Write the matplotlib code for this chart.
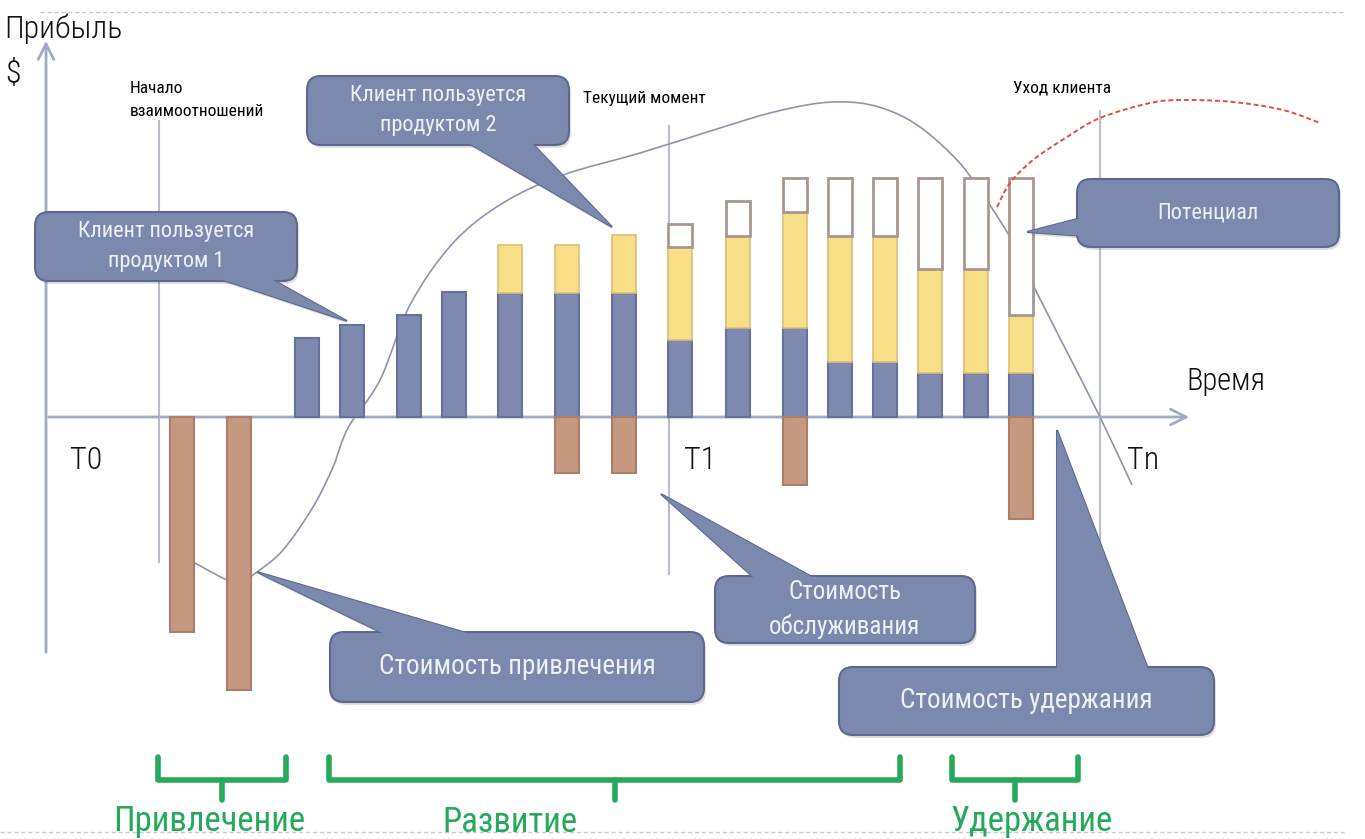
import matplotlib.pyplot as plt
from matplotlib.patches import FancyBboxPatch, Polygon, PathPatch
from matplotlib.path import Path

# time positions of the periods (x) and profit per period (y, 0 = break-even)
PERIODS = [182, 239, 307, 352, 409, 454, 510, 567, 624, 680, 738, 795, 840, 885, 930, 976, 1021]
PRODUCT1 = [0, 0, 79, 92, 102, 125, 124, 124, 124, 77, 89, 89, 55, 55, 44, 44, 44]
PRODUCT2 = [0, 0, 0, 0, 0, 0, 48, 48, 58, 93, 92, 116, 126, 126, 104, 104, 58]
POTENTIAL = [0, 0, 0, 0, 0, 0, 0, 0, 0, 23, 35, 34, 58, 58, 91, 91, 137]
COSTS = [-215, -273, 0, 0, 0, 0, 0, -56, -56, 0, 0, -68, 0, 0, 0, 0, -102]

# cumulative client value curve
LTV_T = [193, 227, 240, 257, 283, 313, 333, 348, 380, 410, 453, 503,
         563, 640, 720, 770, 820, 860, 893, 920, 947, 970, 1010, 1033,
         1066, 1100, 1132]
LTV = [-145, -163, -165, -155, -133, -90, -50, -11, 37, 112, 174, 214,
       242, 264, 289, 304, 314, 314, 305, 290, 267, 241, 180, 132,
       67, 0, -68]

# value that could have been kept
LOST_T = [997, 1010, 1033, 1067, 1100, 1150, 1183, 1233, 1283, 1320]
LOST = [210, 234, 257, 280, 299, 314, 317, 315, 307, 294]

MOMENTS = [159, 669, 1100]
MOMENT_LABELS = ['Начало\nвзаимоотношений', 'Текущий момент', 'Уход клиента']
T_LABELS = ['T0', 'T1', 'Tn']
STAGES = ['Привлечение', 'Развитие', 'Удержание']

BLUE = '#7e8ab0'
BLUE_EDGE = '#67729a'
YELLOW = '#f8df87'
BROWN = '#c6987f'
AXIS = '#a3aac6'
GREEN = '#25a95a'

plt.rcParams['font.family'] = ['Roboto Condensed', 'DejaVu Sans']

BASE = 417  # pixel row of the time axis


def P(x, py):
    return (x, BASE - py)


def smooth_path(xs, ys):
    # cubic bezier through the read points (Catmull-Rom tangents)
    pts = list(zip(xs, ys))
    verts = [pts[0]]
    codes = [Path.MOVETO]
    for i in range(len(pts) - 1):
        p0 = pts[i - 1] if i > 0 else pts[i]
        p1, p2 = pts[i], pts[i + 1]
        p3 = pts[i + 2] if i + 2 < len(pts) else pts[i + 1]
        c1 = (p1[0] + (p2[0] - p0[0]) / 6, p1[1] + (p2[1] - p0[1]) / 6)
        c2 = (p2[0] - (p3[0] - p1[0]) / 6, p2[1] - (p3[1] - p1[1]) / 6)
        verts += [c1, c2, p2]
        codes += [Path.CURVE4] * 3
    return Path(verts, codes)


fig = plt.figure(figsize=(13.65, 8.39), dpi=100)
ax = fig.add_axes([0, 0, 1, 1])
ax.set_xlim(0, 1365)
ax.set_ylim(BASE - 839, BASE)
ax.axis('off')

# dashed frame lines
ax.plot([40, 1345], [BASE - 12, BASE - 12], color='#c8c8c8', lw=1, ls=(0, (3, 2)))
ax.plot([0, 1345], [BASE - 832, BASE - 832], color='#c8c8c8', lw=1, ls=(0, (3, 2)))

# axes with arrows
ax.annotate('', xy=(1192, 0), xytext=(46, 0),
            arrowprops=dict(arrowstyle='->', color=AXIS, lw=2, mutation_scale=28))
ax.annotate('', xy=P(46, 38), xytext=P(46, 655),
            arrowprops=dict(arrowstyle='->', color=AXIS, lw=2, mutation_scale=28))

# moment markers
ax.vlines(MOMENTS, [BASE - 563, BASE - 575, BASE - 640], [BASE - 120, BASE - 125, BASE - 110],
          color='#b9bccb', lw=1.5, zorder=1)
ax.text(130, BASE - 100, MOMENT_LABELS[0], fontsize=12.5, va='center', linespacing=1.6)
ax.text(583, BASE - 98, MOMENT_LABELS[1], fontsize=12.5, va='center')
ax.text(1013, BASE - 88, MOMENT_LABELS[2], fontsize=12.5, va='center')

for x, lab in zip([70, 684, 1127], T_LABELS):
    ax.text(x, BASE - 460, lab, fontsize=23, va='center', color='#111111', fontweight='light')

ax.text(4, BASE - 29, 'Прибыль', fontsize=23, va='center', color='#111111', fontweight='light')
ax.text(5, BASE - 75, '$', fontsize=23, va='center', color='#111111', fontweight='light')
ax.text(1186, BASE - 381, 'Время', fontsize=22, va='center', color='#111111', fontweight='light')

# client value curve (behind the bars)
ax.add_patch(PathPatch(smooth_path(LTV_T, LTV), fc='none', ec='#8f94ad', lw=1.2, zorder=2))

# bars
bw = 24
p2_bottom = PRODUCT1
pot_bottom = [a + b for a, b in zip(PRODUCT1, PRODUCT2)]


def pick(vals, bottoms):
    idx = [i for i, v in enumerate(vals) if v != 0]
    return ([PERIODS[i] for i in idx], [vals[i] for i in idx], [bottoms[i] for i in idx])


x, h, b = pick(PRODUCT1, [0] * len(PERIODS))
ax.bar(x, h, bottom=b, width=bw, color=BLUE, edgecolor=BLUE_EDGE, lw=1.5, zorder=3)
x, h, b = pick(PRODUCT2, p2_bottom)
ax.bar(x, h, bottom=b, width=bw, color=YELLOW, edgecolor='#d8c07a', lw=1.2, zorder=3)
x, h, b = pick(POTENTIAL, pot_bottom)
ax.bar(x, h, bottom=b, width=bw, color='white', edgecolor='#a8978f', lw=2, zorder=3)
x, h, b = pick(COSTS, [0] * len(PERIODS))
ax.bar(x, h, bottom=b, width=bw, color=BROWN, edgecolor='#a87f6b', lw=1.5, zorder=3)

# lost potential
ax.add_patch(PathPatch(smooth_path(LOST_T, LOST), fc='none', ec='#e0503c', lw=1.4,
                       ls=(0, (2.5, 1.5)), zorder=4))

# callouts
FILL = '#7c89ae'
EDGE = '#5c6890'


def callout(x0, y0, x1, y1, pointer, label, size):
    pts = [P(px, py) for px, py in pointer]
    sh = [(px + 2, py - 3) for px, py in pts]
    ax.add_patch(Polygon(sh, closed=True, fc='#000000', alpha=0.12, ec='none', zorder=5))
    ax.add_patch(FancyBboxPatch((x0 + 2, BASE - y1 - 3), x1 - x0, y1 - y0,
                                boxstyle='round,pad=0,rounding_size=14',
                                fc='#000000', alpha=0.12, ec='none', zorder=5))
    ax.add_patch(Polygon(pts, closed=True, fc=FILL, ec=EDGE, lw=1.5, zorder=6))
    ax.add_patch(FancyBboxPatch((x0, BASE - y1), x1 - x0, y1 - y0,
                                boxstyle='round,pad=0,rounding_size=14',
                                fc=FILL, ec=EDGE, lw=1.5, zorder=6))
    ax.add_patch(Polygon(pts, closed=True, fc=FILL, ec='none', zorder=6.1))
    ax.text((x0 + x1) / 2, BASE - (y0 + y1) / 2, label, fontsize=size, color='#eef0f5',
            ha='center', va='center', linespacing=1.5, zorder=7)


callout(35, 212, 297, 281, [(205, 274), (262, 274), (347, 321)],
        'Клиент пользуется\nпродуктом 1', 16)
callout(307, 76, 569, 145, [(460, 138), (527, 138), (612, 227)],
        'Клиент пользуется\nпродуктом 2', 16)
callout(1077, 179, 1339, 247, [(1085, 217), (1085, 236), (1027, 232)],
        'Потенциал', 16)
callout(330, 632, 704, 702, [(395, 639), (487, 639), (257, 572)],
        'Стоимость привлечения', 19.5)
callout(715, 576, 975, 643, [(760, 583), (823, 583), (661, 494)],
        'Стоимость\nобслуживания', 18)
callout(839, 667, 1214, 735, [(1057, 674), (1150, 674), (1057, 430)],
        'Стоимость удержания', 19.5)

# stage brackets
brackets = [(158, 286, 222, 209), (329, 900, 615, 510), (952, 1078, 1015, 1032)]
for (l, r, tick, tx), lab in zip(brackets, STAGES):
    ax.plot([l, l, r, r], [BASE - 757, BASE - 780, BASE - 780, BASE - 757],
            color=GREEN, lw=4, solid_joinstyle='round', solid_capstyle='round')
    ax.plot([tick, tick], [BASE - 780, BASE - 800], color=GREEN, lw=4, solid_capstyle='round')
    ax.text(tx, BASE - 822, lab, fontsize=25, color=GREEN, ha='center', va='center')

fig.savefig('out.png', dpi=100)
